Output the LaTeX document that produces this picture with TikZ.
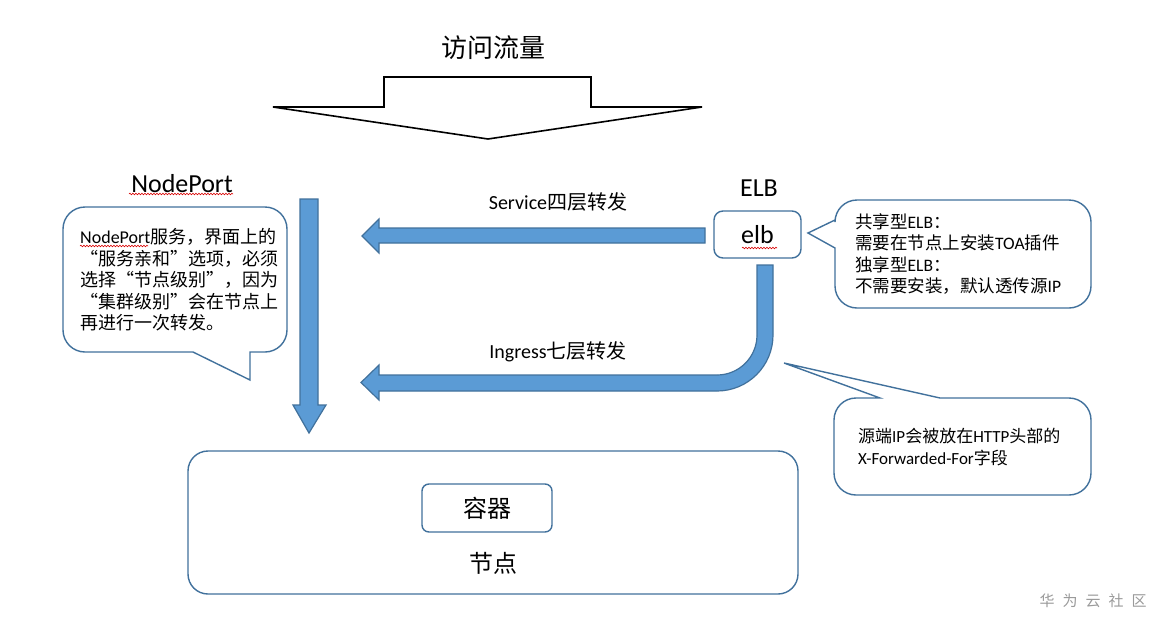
\documentclass[tikz,border=0pt]{standalone}
\usepackage{fontspec}
\setmainfont{Carlito}
\newfontfamily\cjk{Noto Sans CJK SC}
\newcommand\zh[1]{{\cjk #1}}
\usetikzlibrary{decorations.pathmorphing}
\definecolor{blfill}{HTML}{5B9BD5}
\definecolor{bldraw}{HTML}{41719C}
\definecolor{wmgray}{HTML}{9A9A9A}
\begin{document}
\begin{tikzpicture}[x=1pt,y=-1pt,
  blk/.style={fill=blfill,draw=bldraw,line width=1.2pt,line join=miter},
  callout/.style={draw=bldraw,line width=1.4pt,fill=white},
  txt/.style={inner sep=0pt,text=black},
  spell/.style={draw=red!85!black,line width=0.6pt,decorate,decoration={snake,amplitude=0.8pt,segment length=3pt}},
]
\useasboundingbox (0,0) rectangle (1160,627);
\fill[white] (0,0) rectangle (1160,627);

% title and big outline arrow
\node[txt,font=\fontsize{26}{30}\selectfont] (title) at (493,48) {\zh{访问流量}};
\draw[black,line width=1.6pt,line join=miter] (273,107) -- (384,107) -- (384,77) -- (591,77) -- (591,107) -- (702,107) -- (488,139) -- cycle;

% labels
\node[txt,font=\fontsize{26}{30}\selectfont] (nplabel) at (182,184) {NodePort};
\draw[spell] (129,194) -- (233,194);
\node[txt,font=\fontsize{26}{30}\selectfont] (elblabel) at (759,188) {ELB};

% callout 1
\draw[callout] (85,207) -- (265,207) arc(270:360:22) -- (287,330) arc(0:90:22)
  -- (250,352) -- (250,380) -- (193,352) -- (85,352) arc(90:180:22) -- (63,229) arc(180:270:22) -- cycle;
\node[txt,anchor=west,align=left,font=\fontsize{18}{21.5}\selectfont] (np) at (80,280)
 {NodePort\zh{服务，界面上的}\\
  \zh{“服务亲和”选项，必须}\\
  \zh{选择“节点级别”，因为}\\
  \zh{“集群级别”会在节点上}\\
  \zh{再进行一次转发。}};
\draw[spell] (80,246) -- (148,246);

% vertical blue arrow
\draw[blk] (300,199) -- (318,199) -- (318,405) -- (326,405) -- (309,433) -- (293,405) -- (300,405) -- cycle;

% Service arrow
\draw[blk] (705,228) -- (705,243) -- (379,243) -- (379,253) -- (362,236) -- (379,219) -- (379,228) -- cycle;
\node[txt,font=\fontsize{20}{24}\selectfont] (svc) at (558,202) {Service\zh{四层转发}};

% elb box
\node[draw=bldraw,line width=1.4pt,rounded corners=9pt,minimum width=87pt,minimum height=47pt,inner sep=0pt,font=\fontsize{26}{30}\selectfont] (elb) at (757.5,234.5) {elb};
\draw[spell] (742,248) -- (777,248);

% callout 2
\draw[callout] (857,200) -- (1069,200) arc(270:360:22) -- (1091,286) arc(0:90:22)
  -- (857,308) arc(90:180:22) -- (835,248) -- (808,233) -- (835,220) -- (835,222) arc(180:270:22) -- cycle;
\node[txt,anchor=west,align=left,font=\fontsize{17.5}{21.3}\selectfont] (elbnote) at (855,254)
 {\zh{共享型}ELB\zh{：}\\
  \zh{需要在节点上安装}TOA\zh{插件}\\
  \zh{独享型}ELB\zh{：}\\
  \zh{不需要安装，默认透传源}IP};

% Ingress bent arrow
\draw[blk] (757,265) -- (773,265) -- (773,335) arc(0:90:56) -- (379,391) -- (379,400) -- (361,382.5) -- (379,365) -- (379,375) -- (717,375) arc(90:0:40) -- cycle;
\node[txt,font=\fontsize{20}{24}\selectfont] (ing) at (558,352) {Ingress\zh{七层转发}};

% callout 3
\draw[callout] (856,398) -- (880,398) -- (784,363) -- (940,398) -- (1069,398) arc(270:360:22) -- (1091,473) arc(0:90:22)
  -- (856,495) arc(90:180:22) -- (834,420) arc(180:270:22) -- cycle;
\node[txt,anchor=west,align=left,font=\fontsize{17}{22}\selectfont] (xff) at (858,447)
 {\zh{源端}IP\zh{会被放在}HTTP\zh{头部的}\\
  X-Forwarded-For\zh{字段}};

% node box
\node[draw=bldraw,line width=1.4pt,rounded corners=20pt,minimum width=610pt,minimum height=143pt,inner sep=0pt] (nodebox) at (493,522.5) {};
\node[txt,font=\fontsize{24}{28}\selectfont] (jd) at (493,563) {\zh{节点}};
\node[draw=bldraw,line width=1.4pt,rounded corners=7pt,minimum width=130pt,minimum height=48pt,inner sep=0pt,font=\fontsize{24}{28}\selectfont] (rq) at (487,508) {\zh{容器}};

% watermark
\node[txt,text=wmgray,font=\fontsize{15}{17}\selectfont] (wm) at (1093,601) {\zh{华\hspace{8pt}为\hspace{8pt}云\hspace{8pt}社\hspace{8pt}区}};
\end{tikzpicture}
\end{document}
